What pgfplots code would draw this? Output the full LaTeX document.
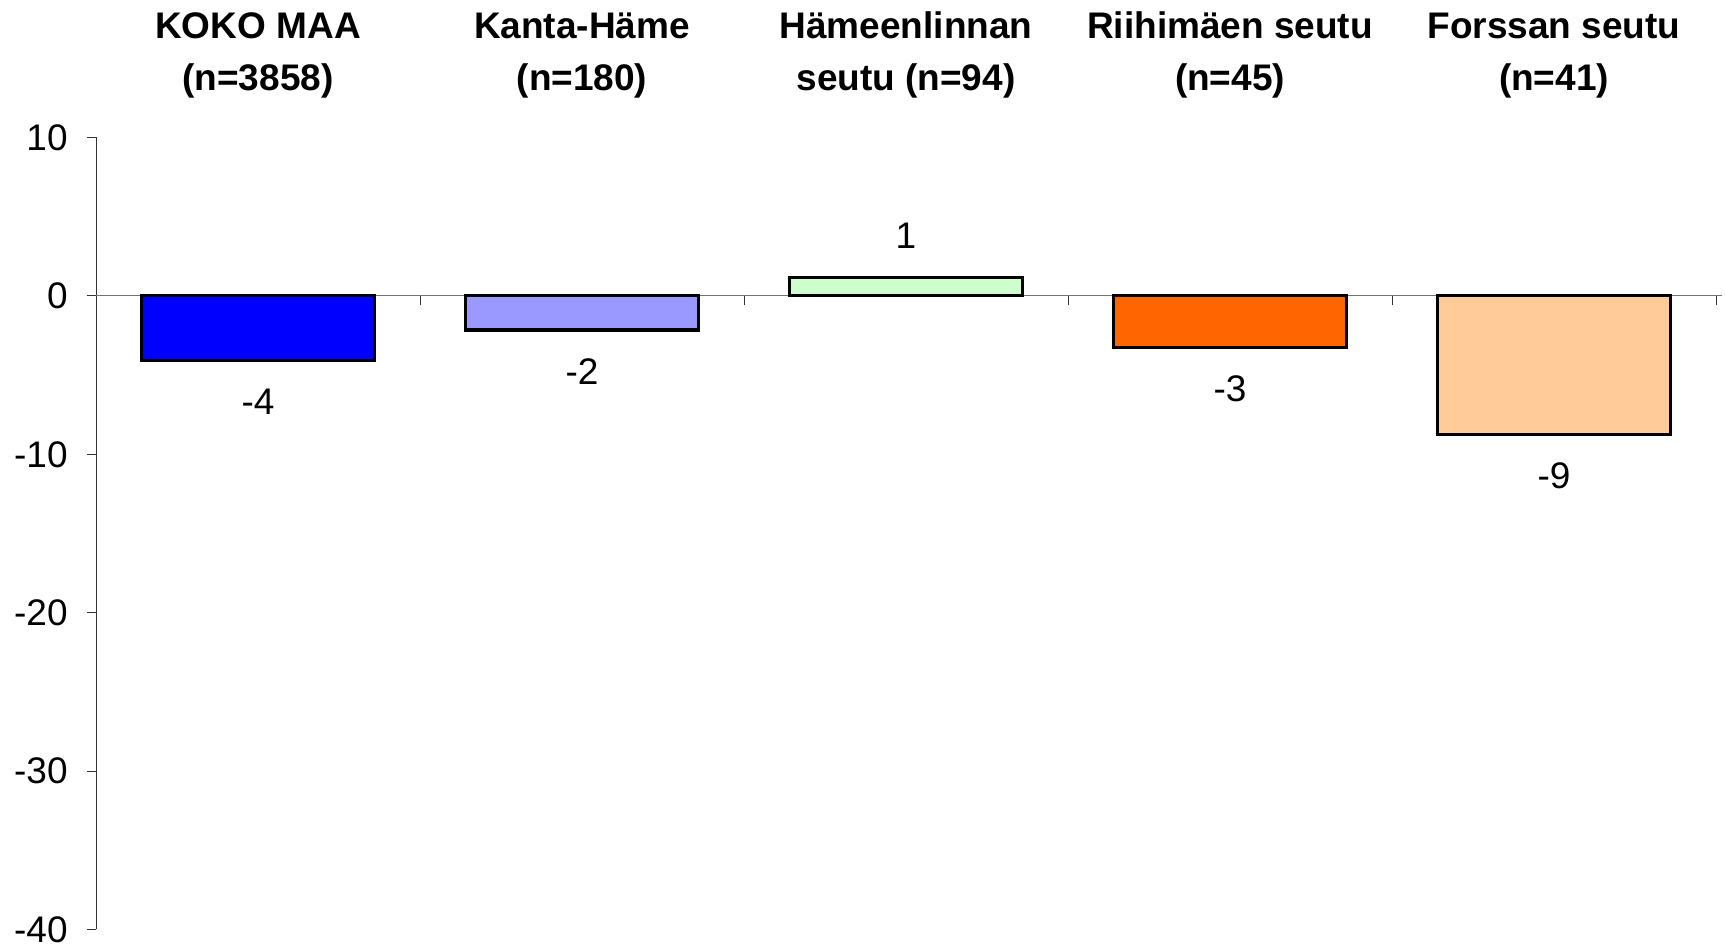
\documentclass[border=0pt]{standalone}
\usepackage{fontspec}
\setmainfont{Liberation Sans}
\usepackage{pgfplots}
\pgfplotsset{compat=1.18}

\definecolor{c1}{HTML}{0000FF}
\definecolor{c2}{HTML}{9999FF}
\definecolor{c3}{HTML}{CCFFCC}
\definecolor{c4}{HTML}{FF6600}
\definecolor{c5}{HTML}{FFCC99}

\begin{document}
\begin{tikzpicture}[font=\fontsize{18.5}{22}\selectfont]
\begin{axis}[
    scale only axis,
    width=810pt, height=396pt,
    xmin=-0.5, xmax=4.5,
    ymin=-40, ymax=10,
    axis x line=none,
    axis y line*=left,
    y axis line style={black!80, line width=0.5pt},
    ytick={-40,-30,-20,-10,0,10},
    yticklabels={-40,-30,-20,-10,0,10},
    tick align=outside,
    major tick length=4.5pt,
    ytick style={black!80, line width=0.5pt},
    yticklabel style={inner sep=0pt, xshift=-9.5pt},
    clip=false,
    ybar, bar shift=0pt, bar width=0.72,
    point meta=explicit symbolic,
    nodes near coords,
    every node near coord/.append style={inner sep=13.5pt, black, anchor=south},
    neg/.style={every node near coord/.append style={anchor=north}},
]
% zero line with category separators
\draw[black!55, line width=0.6pt] (axis cs:-0.5,0) -- (axis cs:4.52,0);
\pgfplotsinvokeforeach{0.5,1.5,2.5,3.5,4.5}{
  \draw[black!80, line width=0.5pt] (axis cs:#1,0) -- (axis cs:#1,-0.57);
}
\addplot[neg, draw=black, line width=1.6pt, fill=c1] coordinates {(0,-4.1) [-4]};
\addplot[neg, draw=black, line width=1.6pt, fill=c2] coordinates {(1,-2.15) [-2]};
\addplot[draw=black, line width=1.6pt, fill=c3] coordinates {(2,1.18) [1]};
\addplot[neg, draw=black, line width=1.6pt, fill=c4] coordinates {(3,-3.26) [-3]};
\addplot[neg, draw=black, line width=1.6pt, fill=c5] coordinates {(4,-8.75) [-9]};

% category headings
\begin{scope}[every node/.style={anchor=base, inner sep=0pt, font=\fontsize{18.5}{22}\selectfont\bfseries}]
\node at (axis cs:0,16.25) {KOKO MAA};
\node at (axis cs:0,12.94) {(n=3858)};
\node at (axis cs:1,16.25) {Kanta-Häme};
\node at (axis cs:1,12.94) {(n=180)};
\node at (axis cs:2,16.25) {Hämeenlinnan};
\node at (axis cs:2,12.94) {seutu (n=94)};
\node at (axis cs:3,16.25) {Riihimäen seutu};
\node at (axis cs:3,12.94) {(n=45)};
\node at (axis cs:4,16.25) {Forssan seutu};
\node at (axis cs:4,12.94) {(n=41)};
\end{scope}

\coordinate (bbl) at (axis cs:-0.7963,-41.35);
\coordinate (btr) at (axis cs:4.5278,18.68);
\end{axis}
\pgfresetboundingbox
\path[use as bounding box] (bbl) rectangle (btr);
\end{tikzpicture}
\end{document}
